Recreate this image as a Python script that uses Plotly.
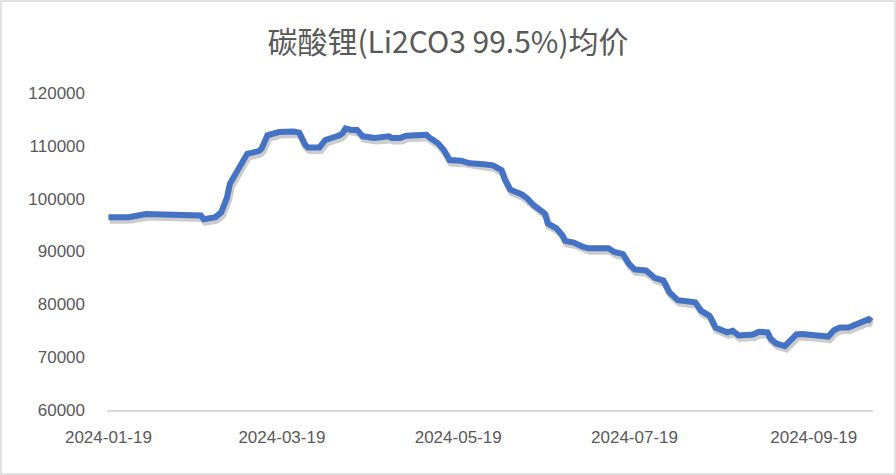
import plotly.graph_objects as go
import datetime as _dt

# ---- data ----
dates = [
    "2024-01-19", "2024-01-26", "2024-02-01", "2024-02-09", "2024-02-20", "2024-02-21",
    "2024-02-25", "2024-02-27", "2024-02-29", "2024-03-01", "2024-03-05", "2024-03-06",
    "2024-03-07", "2024-03-11", "2024-03-12", "2024-03-14", "2024-03-18", "2024-03-23",
    "2024-03-25", "2024-03-27", "2024-03-28", "2024-04-01", "2024-04-03", "2024-04-08",
    "2024-04-09", "2024-04-10", "2024-04-12", "2024-04-14", "2024-04-16", "2024-04-20",
    "2024-04-24", "2024-04-25", "2024-04-26", "2024-04-29", "2024-05-01", "2024-05-06",
    "2024-05-08", "2024-05-09", "2024-05-12", "2024-05-14", "2024-05-16", "2024-05-20",
    "2024-05-22", "2024-05-23", "2024-05-28", "2024-05-31", "2024-06-03", "2024-06-04",
    "2024-06-06", "2024-06-10", "2024-06-12", "2024-06-14", "2024-06-18", "2024-06-19",
    "2024-06-22", "2024-06-24", "2024-06-25", "2024-06-28", "2024-07-01", "2024-07-03",
    "2024-07-10", "2024-07-12", "2024-07-15", "2024-07-17", "2024-07-19", "2024-07-23",
    "2024-07-26", "2024-07-29", "2024-07-31", "2024-08-03", "2024-08-09", "2024-08-11",
    "2024-08-14", "2024-08-16", "2024-08-20", "2024-08-22", "2024-08-24", "2024-08-29",
    "2024-08-31", "2024-09-03", "2024-09-04", "2024-09-06", "2024-09-09", "2024-09-13",
    "2024-09-15", "2024-09-19", "2024-09-22", "2024-09-24", "2024-09-26", "2024-09-28",
    "2024-10-01", "2024-10-08", "2024-10-09",
]
prices = [
    96500, 96500, 97100, 97000, 96800, 96100,
    96500, 97400, 100200, 102800, 106600, 107700,
    108500, 109000, 109500, 112000, 112600, 112700,
    112500, 110200, 109700, 109700, 111100, 112000,
    112400, 113300, 113000, 113000, 111800, 111500,
    111600, 111800, 111500, 111500, 111900, 111900,
    112100, 111600, 110500, 109200, 107300, 107200,
    107000, 106700, 106500, 106300, 105400, 103800,
    101700, 100800, 100000, 98800, 97200, 95300,
    94400, 93100, 92000, 91700, 90900, 90600,
    90600, 89900, 89500, 87700, 86600, 86400,
    85000, 84500, 82300, 80800, 80400, 78800,
    77800, 75600, 74700, 75000, 74100, 74300,
    74800, 74700, 73500, 72600, 72100, 74300,
    74400, 74200, 74000, 73900, 75100, 75600,
    75600, 77200, 76800,
]
tick_labels = ["2024-01-19", "2024-03-19", "2024-05-19", "2024-07-19", "2024-09-19"]
title_text = "碳酸锂(Li2CO3 99.5%)均价"

# ---- layout constants ----
W, H = 896, 475
ML, MR, MT, MB = 107, 23, 93, 65
X_RANGE = ["2024-01-18 12:00", "2024-10-09 12:00"]
Y_RANGE = [60000, 120000]
LINE_COLOR = "#4472C4"
TEXT_COLOR = "#595959"
FONT = "Liberation Sans, Noto Sans CJK SC, sans-serif"

plot_h = H - MT - MB
plot_w = W - ML - MR
shift_y = 3 * (Y_RANGE[1] - Y_RANGE[0]) / plot_h   # ~3 px down for shadow
shift_x_ms = 1.5 * (265 * 86400000) / plot_w      # ~1.5 px right for shadow


def _shift(s, ms):
    d = _dt.datetime.fromisoformat(s) - _dt.timedelta(milliseconds=ms)
    return d.isoformat(sep=" ")


fig = go.Figure()
# invisible carrier on the base axes (so the visible axes get drawn)
fig.add_trace(go.Scatter(
    x=dates, y=prices, mode="lines", opacity=0,
    line=dict(color=LINE_COLOR, width=1),
    hoverinfo="skip", showlegend=False,
))
# shadow
fig.add_trace(go.Scatter(
    x=dates, y=prices, mode="lines", xaxis="x2", yaxis="y2",
    line=dict(color="rgba(0,0,0,0.2)", width=7),
    hoverinfo="skip", showlegend=False,
))
# main line
fig.add_trace(go.Scatter(
    x=dates, y=prices, mode="lines", xaxis="x3", yaxis="y3",
    line=dict(color=LINE_COLOR, width=6),
    showlegend=False,
))

fig.update_layout(
    width=W, height=H,
    margin=dict(l=ML, r=MR, t=MT, b=MB),
    paper_bgcolor="white", plot_bgcolor="white",
    title=dict(text=title_text, x=0.5, xref="container", xanchor="center",
               y=1 - 42 / H, yanchor="middle",
               font=dict(family="Noto Sans CJK SC, sans-serif", size=30, color=TEXT_COLOR)),
    font=dict(family=FONT, color=TEXT_COLOR),
    xaxis=dict(
        type="date", range=X_RANGE,
        tickvals=tick_labels, ticktext=tick_labels,
        showgrid=False, zeroline=False,
        showline=True, linecolor="#D9D9D9", linewidth=1.5,
        ticks="", ticklabelstandoff=11,
        tickfont=dict(size=17, color=TEXT_COLOR, family=FONT),
    ),
    yaxis=dict(
        range=Y_RANGE, dtick=10000, tickformat="d",
        showgrid=False, zeroline=False, showline=False,
        ticks="", ticklabelstandoff=21,
        tickfont=dict(size=17, color=TEXT_COLOR, family=FONT),
    ),
    xaxis2=dict(type="date", overlaying="x", visible=False,
                range=[_shift(X_RANGE[0], shift_x_ms), _shift(X_RANGE[1], shift_x_ms)]),
    yaxis2=dict(overlaying="y", visible=False,
                range=[Y_RANGE[0] + shift_y, Y_RANGE[1] + shift_y]),
    xaxis3=dict(type="date", overlaying="x", visible=False, range=X_RANGE),
    yaxis3=dict(overlaying="y", visible=False, range=Y_RANGE),
    shapes=[dict(type="rect", xref="paper", yref="paper",
                 x0=-(ML - 1) / plot_w, x1=1 + (MR - 1) / plot_w,
                 y0=-(MB - 1) / plot_h, y1=1 + (MT - 1) / plot_h,
                 line=dict(color="#D9D9D9", width=1.5), layer="below")],
)

fig.write_html("out.html",
               config={"displayModeBar": False},
               post_script="document.body.style.margin='0';document.body.style.padding='0';")
